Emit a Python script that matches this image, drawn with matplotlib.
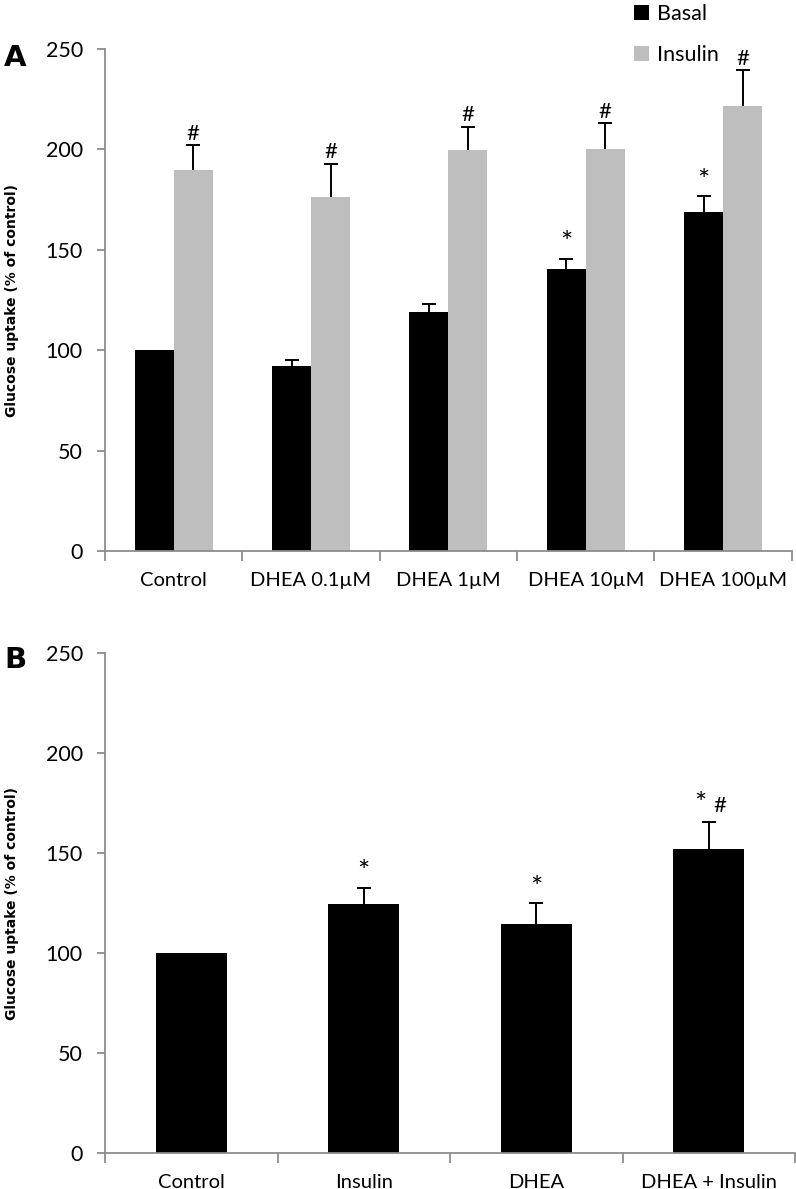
import matplotlib
matplotlib.use("Agg")
import matplotlib.pyplot as plt
from matplotlib.patches import Patch
import numpy as np

# ---------------- data ----------------
cats_a = ["Control", "DHEA 0.1µM", "DHEA 1µM", "DHEA 10µM", "DHEA 100µM"]
basal_a = [100, 92, 119, 140.5, 168.6]
basal_err_a = [0, 3, 4, 5, 8]
insulin_a = [189.7, 176.4, 199.7, 200.2, 221.7]
insulin_err_a = [12.3, 16.4, 11.6, 12.8, 17.7]
basal_marks_a = ["", "", "", "*", "*"]
insulin_marks_a = ["#", "#", "#", "#", "#"]

cats_b = ["Control", "Insulin", "DHEA", "DHEA + Insulin"]
vals_b = [100, 124.8, 114.7, 152]
err_b = [0, 8, 10.3, 13.7]
marks_b = ["", "*", "*", "* #"]

yticks = [0, 50, 100, 150, 200, 250]

# ---------------- style ----------------
W, H = 796, 1189
DPI = 100
BLACK = "#000000"
GRAY = "#BEBEBE"
SPINE = "#8C8C8C"
FONT = "Lato"

plt.rcParams["font.family"] = [FONT, "DejaVu Sans"]

fig = plt.figure(figsize=(W / DPI, H / DPI), dpi=DPI)


def px_axes(left, right, top, bottom):
    return fig.add_axes([left / W, 1 - bottom / H, (right - left) / W, (bottom - top) / H])


def style_axes(ax, ncat):
    ax.set_ylim(0, 250)
    ax.set_xlim(-0.5, ncat - 0.5)
    ax.set_yticks(yticks)
    for s in ["top", "right"]:
        ax.spines[s].set_visible(False)
    for s in ["left", "bottom"]:
        ax.spines[s].set_color(SPINE)
        ax.spines[s].set_linewidth(1.3)
    ax.tick_params(axis="y", direction="out", length=6, width=1.3, color=SPINE,
                   labelsize=15.5, pad=10, labelcolor="black")
    ax.set_xticks(np.arange(ncat))
    ax.set_xticks(np.arange(ncat + 1) - 0.5, minor=True)
    ax.tick_params(axis="x", which="major", length=0, labelsize=14.5, pad=15)
    ax.tick_params(axis="x", which="minor", direction="out", length=7, width=1.3, color=SPINE)


def ebar(ax, x, y, e):
    if e <= 0:
        return
    _, caps, _ = ax.errorbar(x, y, yerr=[[0], [e]], fmt="none", ecolor="black",
                             elinewidth=1.4, capsize=5, capthick=1.4, zorder=3)
    caps[0].set_visible(False)


def mark(ax, x, top, txt):
    if not txt:
        return
    if txt == "#":
        ax.annotate(txt, (x, top), xytext=(0, 1), textcoords="offset points",
                    ha="center", va="bottom", fontsize=16, color="black")
    elif txt == "*":
        ax.annotate(txt, (x, top), xytext=(0, 1), textcoords="offset points",
                    ha="center", va="bottom", fontsize=21, color="black")
    else:
        ax.annotate("*", (x, top), xytext=(-6, 3), textcoords="offset points",
                    ha="center", va="bottom", fontsize=21, color="black")
        ax.annotate("#", (x, top), xytext=(8, 4), textcoords="offset points",
                    ha="center", va="bottom", fontsize=16, color="black")


# ---------------- panel A ----------------
axA = px_axes(105, 791.7, 49, 551)
xa = np.arange(len(cats_a))
w = 0.284
axA.bar(xa - w / 2, basal_a, w, color=BLACK, zorder=2)
axA.bar(xa + w / 2, insulin_a, w, color=GRAY, zorder=2)
for i in range(len(cats_a)):
    ebar(axA, xa[i] - w / 2, basal_a[i], basal_err_a[i])
    ebar(axA, xa[i] + w / 2, insulin_a[i], insulin_err_a[i])
    mark(axA, xa[i] - w / 2, basal_a[i] + basal_err_a[i], basal_marks_a[i])
    mark(axA, xa[i] + w / 2, insulin_a[i] + insulin_err_a[i], insulin_marks_a[i])
axA.set_xticklabels(cats_a)
style_axes(axA, len(cats_a))

# ---------------- panel B ----------------
axB = px_axes(105, 795, 653, 1153.3)
xb = np.arange(len(cats_b))
wb = 0.41
axB.bar(xb, vals_b, wb, color=BLACK, zorder=2)
for i in range(len(cats_b)):
    ebar(axB, xb[i], vals_b[i], err_b[i])
    mark(axB, xb[i], vals_b[i] + err_b[i], marks_b[i])
axB.set_xticklabels(cats_b)
style_axes(axB, len(cats_b))

# ---------------- labels ----------------
ylab = "Glucose uptake (% of control)"
fig.text(12 / W, 1 - 300 / H, ylab, rotation=90, ha="center", va="center",
         fontsize=10, fontweight="bold", family="DejaVu Sans")
fig.text(12 / W, 1 - 903 / H, ylab, rotation=90, ha="center", va="center",
         fontsize=10, fontweight="bold", family="DejaVu Sans")
fig.text(4 / W, 1 - 58 / H, "A", ha="left", va="center", fontsize=21,
         fontweight="bold", family="DejaVu Sans")
fig.text(4 / W, 1 - 660 / H, "B", ha="left", va="center", fontsize=21,
         fontweight="bold", family="DejaVu Sans")

handles = [Patch(facecolor=BLACK, edgecolor="none", label="Basal"),
           Patch(facecolor=GRAY, edgecolor="none", label="Insulin")]
fig.legend(handles=handles, loc="upper left", bbox_to_anchor=(621 / W, 1 + 9 / H),
           frameon=False, fontsize=15.5, handlelength=0.7, handleheight=0.7,
           handletextpad=0.35, labelspacing=1.0, borderpad=0.1)

fig.savefig("out.png", dpi=DPI)
